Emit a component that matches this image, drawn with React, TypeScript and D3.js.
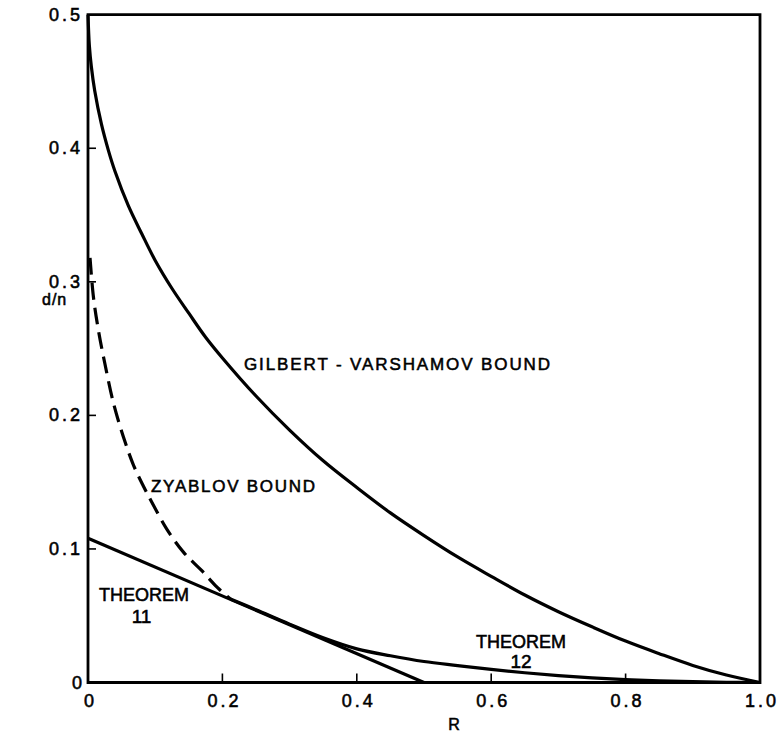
import React from "react";
import * as d3 from "d3";

const W = 778;
const H = 732;

// Gilbert–Varshamov bound
const gvR = [0, 0.002, 0.005, 0.01, 0.02, 0.03, 0.04, 0.06, 0.08, 0.1, 0.125, 0.15, 0.175, 0.2, 0.25, 0.3, 0.35, 0.4, 0.45, 0.5, 0.55, 0.6, 0.65, 0.7, 0.75, 0.8, 0.85, 0.9, 0.95, 1.0];
const gvD = [0.5, 0.477, 0.461, 0.443, 0.418, 0.399, 0.383, 0.357, 0.336, 0.316, 0.295, 0.2765, 0.2585, 0.243, 0.2145, 0.189, 0.166, 0.146, 0.127, 0.11, 0.094, 0.0795, 0.0655, 0.053, 0.0417, 0.031, 0.0216, 0.0128, 0.0056, 0];

// Zyablov bound, dashed part
const zdR = [0.003, 0.008, 0.0154, 0.025, 0.038, 0.0526, 0.0675, 0.0825, 0.095, 0.117, 0.142, 0.169, 0.192, 0.212];
const zdD = [0.318, 0.289, 0.264, 0.239, 0.209, 0.184, 0.163, 0.147, 0.135, 0.115, 0.0976, 0.0839, 0.0714, 0.0625];

// Zyablov bound, solid part (Theorem 12)
const zsR = [0.212, 0.25, 0.3, 0.35, 0.4, 0.45, 0.5, 0.55, 0.6, 0.65, 0.7, 0.75, 0.8, 0.85, 0.9, 0.95, 1.0];
const zsD = [0.0625, 0.0545, 0.0437, 0.0335, 0.0252, 0.02, 0.0157, 0.0127, 0.0098, 0.0073, 0.0052, 0.0035, 0.0022, 0.0012, 0.0006, 0.0002, 0];

// Theorem 11 straight line
const t11R = [0, 0.5];
const t11D = [0.108, 0];

const xTicks = [0, 0.2, 0.4, 0.6, 0.8, 1.0];
const xTickLabels = ["0", "0.2", "0.4", "0.6", "0.8", "1.0"];
const yTicks = [0, 0.1, 0.2, 0.3, 0.4, 0.5];
const yTickLabels = ["0", "0.1", "0.2", "0.3", "0.4", "0.5"];

const x = d3.scaleLinear().domain([0, 1]).range([88, 760]);
const y = d3.scaleLinear().domain([0, 0.5]).range([682.5, 14.7]);

const zip = (a: number[], b: number[]) => a.map((v, i) => [v, b[i]] as [number, number]);

const line = d3
  .line<[number, number]>()
  .x((d) => x(d[0]))
  .y((d) => y(d[1]))
  .curve(d3.curveCatmullRom.alpha(0.5));

const font = "'Liberation Sans', Arial, Helvetica, sans-serif";
const textStroke = { stroke: "#000", strokeWidth: 0.55 };

export default function App() {
  return (
    <svg
      width={W}
      height={H}
      style={{ position: "absolute", left: 0, top: 0, background: "#fff" }}
      fontFamily={font}
    >
      <rect width={W} height={H} fill="#fff" />
      {/* frame */}
      <path
        d={`M${x(0)},${y(0.5)}H${x(1)}V${y(0)}H${x(0)}Z`}
        fill="none"
        stroke="#000"
        strokeWidth={2.8}
      />
      {/* ticks */}
      {xTicks.slice(1, -1).map((t) => (
        <line key={"xt" + t} x1={x(t)} x2={x(t)} y1={y(0)} y2={y(0) - 9} stroke="#000" strokeWidth={1.6} />
      ))}
      {yTicks.slice(1, -1).map((t) => (
        <line key={"yt" + t} x1={x(0)} x2={x(0) + 8} y1={y(t)} y2={y(t)} stroke="#000" strokeWidth={1.6} />
      ))}
      {/* tick labels */}
      {xTicks.map((t, i) => (
        <text
          key={"xl" + t}
          x={x(t) + (i === 0 ? 1 : 2)}
          y={707}
          fontSize={18}
          textAnchor="middle"
          letterSpacing={i === 0 ? 0 : 3}
          {...textStroke}
        >
          {xTickLabels[i]}
        </text>
      ))}
      {yTicks.map((t, i) => (
        <text
          key={"yl" + t}
          x={i === 0 ? 82 : 83}
          y={y(t) + 6}
          fontSize={18}
          textAnchor="end"
          letterSpacing={i === 0 ? 0 : 3}
          {...textStroke}
        >
          {yTickLabels[i]}
        </text>
      ))}
      {/* axis titles */}
      <text x={454} y={730} fontSize={16} textAnchor="middle" {...textStroke}>
        R
      </text>
      <text x={42} y={305} fontSize={16} letterSpacing={1} {...textStroke}>
        d/n
      </text>
      {/* curves */}
      <path d={line(zip(gvR, gvD)) || ""} fill="none" stroke="#000" strokeWidth={3.2} />
      <path d={line(zip(t11R, t11D)) || ""} fill="none" stroke="#000" strokeWidth={3.2} />
      <path d={line(zip(zsR, zsD)) || ""} fill="none" stroke="#000" strokeWidth={3.2} />
      <path
        d={line(zip(zdR, zdD)) || ""}
        fill="none"
        stroke="#000"
        strokeWidth={3.2}
        strokeDasharray="17,8"
      />
      {/* labels */}
      <text x={244} y={370} fontSize={17} textLength={306} lengthAdjust="spacing" {...textStroke}>
        GILBERT - VARSHAMOV BOUND
      </text>
      <text x={151} y={492} fontSize={17} textLength={164} lengthAdjust="spacing" {...textStroke}>
        ZYABLOV BOUND
      </text>
      <text x={99} y={601} fontSize={18} textLength={90} lengthAdjust="spacing" {...textStroke}>
        THEOREM
      </text>
      <text x={141.5} y={623} fontSize={19} textAnchor="middle" {...textStroke}>
        11
      </text>
      <text x={476} y={648} fontSize={18} textLength={90} lengthAdjust="spacing" {...textStroke}>
        THEOREM
      </text>
      <text x={521} y={668} fontSize={19} textAnchor="middle" {...textStroke}>
        12
      </text>
    </svg>
  );
}
